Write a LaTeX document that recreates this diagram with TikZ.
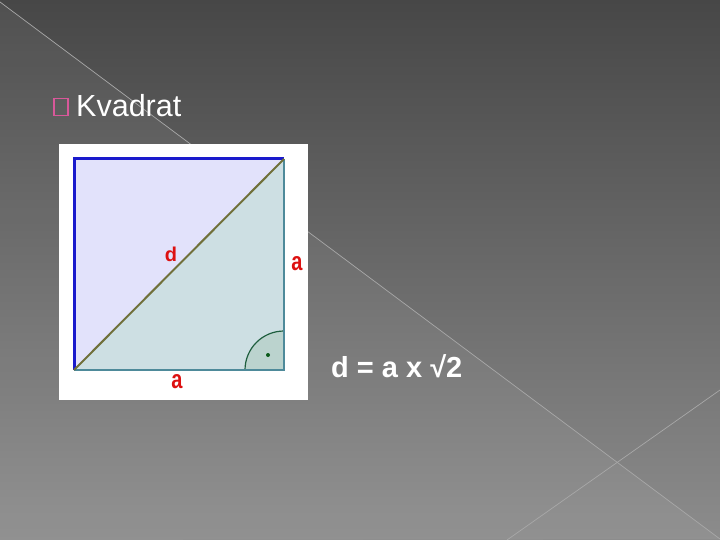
\documentclass[tikz,border=0pt]{standalone}
\usepackage{fontspec}
\setmainfont{Liberation Sans}
\usetikzlibrary{calc}
\definecolor{bgtop}{HTML}{474747}
\definecolor{bgbot}{HTML}{8C8C8C}
\definecolor{bgline}{HTML}{A8A8A8}
\definecolor{bulletpink}{HTML}{D8589A}
\definecolor{lav}{HTML}{E2E2FB}
\definecolor{paleblue}{HTML}{CDDFE3}
\definecolor{anglefill}{HTML}{BBD3CE}
\definecolor{anglegreen}{HTML}{1E5E3E}
\definecolor{dotgreen}{HTML}{0A5A1A}
\definecolor{edgeblue}{HTML}{1A1ACC}
\definecolor{edgeteal}{HTML}{4E8A9A}
\definecolor{diagolive}{HTML}{70703A}
\definecolor{labred}{HTML}{DD1111}
\tikzset{
  bgstroke/.style={draw=bgline, line width=0.7pt},
  lab/.style={text=labred, font=\fontsize{20}{22}\selectfont\bfseries, inner sep=0pt},
  slidetext/.style={text=white, inner sep=0pt, anchor=base west},
}
\begin{document}
\begin{tikzpicture}[x=1pt,y=-1pt]
\useasboundingbox (0,0) rectangle (720,540);
% background
\shade[top color=bgtop, bottom color=bgbot] (0,0) rectangle (720,540);
\fill[white, opacity=0.05] (0,2) -- (720,539) -- (0,540) -- cycle;
\coordinate (l1a) at (0,2);
\coordinate (l1b) at (720,539);
\coordinate (l2a) at (720,390);
\coordinate (l2b) at (507,540);
\draw[bgstroke] (l1a) -- (l1b);
\draw[bgstroke] (l2a) -- (l2b);
% title with bullet
\node[draw=bulletpink, line width=1.7pt, minimum width=14pt, minimum height=17pt, inner sep=0pt] (bullet) at (61,107) {};
\node[slidetext, font=\fontsize{30.5}{33}\selectfont] (title) at (76,117) {Kvadrat};
% picture
\node[fill=white, minimum width=249pt, minimum height=255pt, inner sep=0pt] (pic) at (183.5,272) {};
\coordinate (A) at (74,370);
\coordinate (B) at (284,370);
\coordinate (C) at (284,159);
\coordinate (D) at (74,159);
\fill[lav] (A) -- (C) -- (D) -- cycle;
\fill[paleblue] (A) -- (B) -- (C) -- cycle;
\coordinate (arcS) at (245,370);
\fill[anglefill] (B) -- (arcS) arc[start angle=180, end angle=270, radius=39] -- cycle;
\draw[anglegreen, line width=1.2pt] (arcS) arc[start angle=180, end angle=270, radius=39];
\fill[dotgreen] (268,355) circle (2);
\draw[edgeteal, line width=2.6pt] (A) -- (B) -- (C);
\draw[edgeblue, line width=3pt] (C) -- (D) -- (A);
\draw[diagolive, line width=2pt] (A) -- (C);
\node[lab] (d) at (171,254.5) {d};
\node[lab] (aR) at (297,263.5) {\scalebox{1}[1.3]{a}};
\node[lab] (aB) at (177,382) {\scalebox{1}[1.3]{a}};
% formula
\node[slidetext, font=\fontsize{29}{31}\selectfont\bfseries] (formula) at (331,377) {d = a x √2};
\end{tikzpicture}
\end{document}
